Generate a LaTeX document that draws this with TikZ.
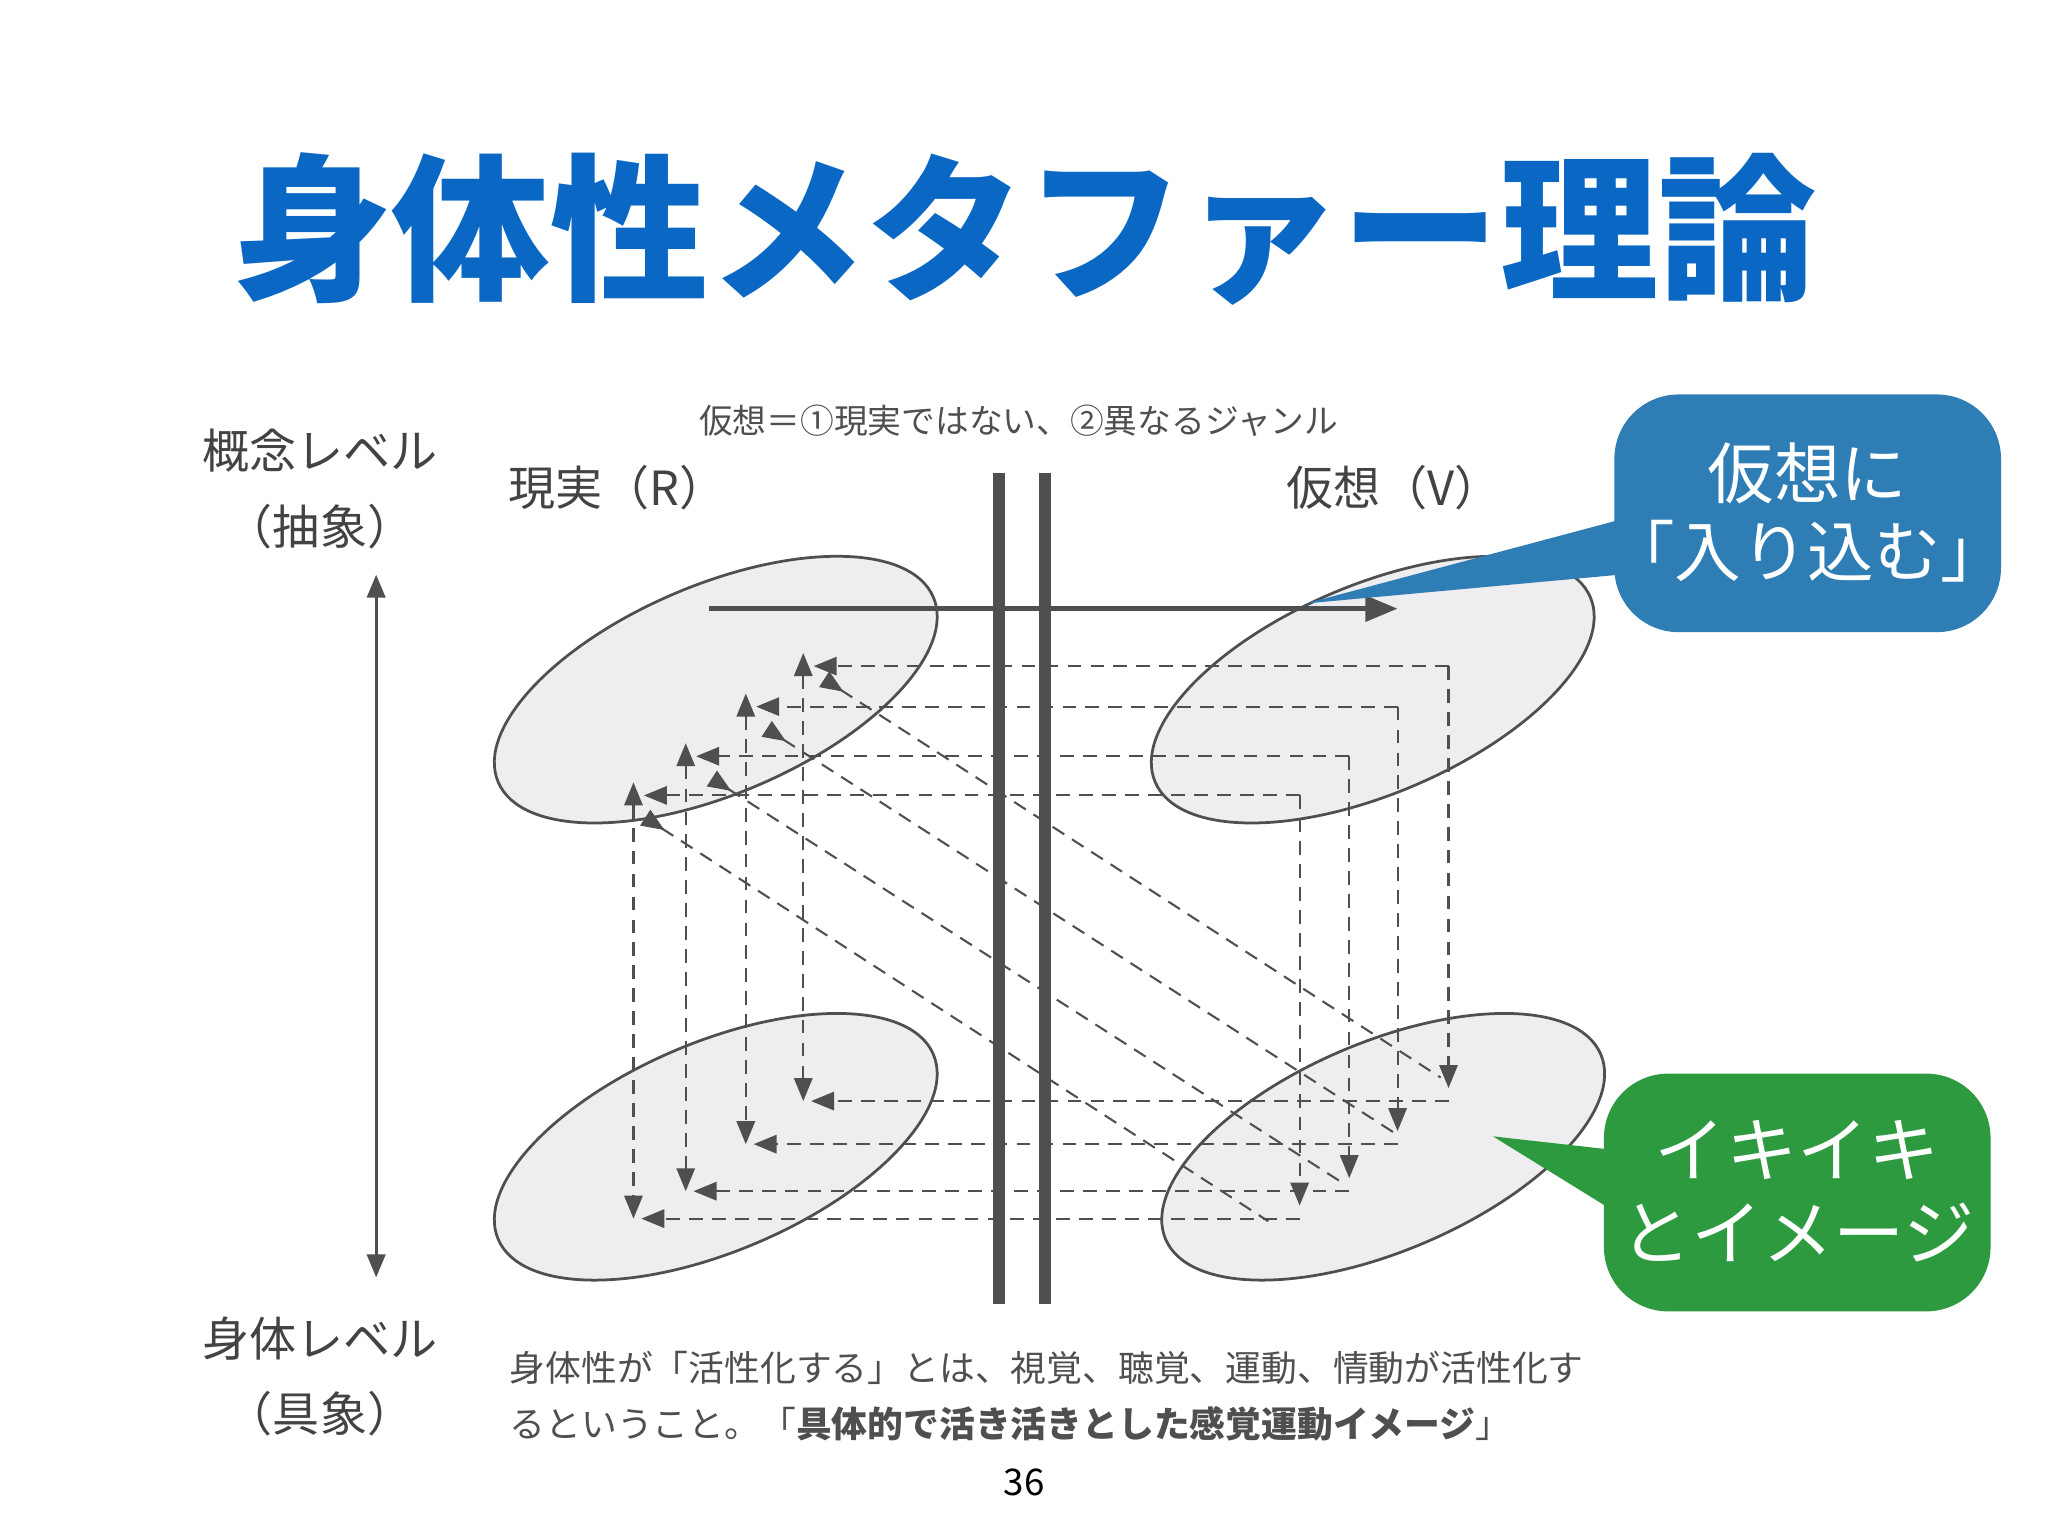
\documentclass[tikz,border=0pt]{standalone}
\usepackage{fontspec}
\newfontfamily\jp{Noto Sans CJK JP}
\usetikzlibrary{arrows.meta}
\definecolor{tblue}{HTML}{0A68C4}
\definecolor{cblue}{HTML}{2E7DB5}
\definecolor{cgreen}{HTML}{2E9A40}
\definecolor{dk}{HTML}{4F4F52}
\definecolor{efill}{HTML}{EEEDF0}
\tikzset{
  ell/.style={draw=dk, line width=1.2pt, fill=efill},
  dsh/.style={draw=dk, dashed, dash pattern=on 6pt off 4pt, line width=0.9pt},
  tip/.style={-{Triangle[length=10pt,width=8pt]}},
  lbl/.style={font=\jp\fontsize{20.5}{24}\selectfont, text=dk!85!black},
  bar/.style={draw=dk, line width=5pt},
}
\begin{document}
\begin{tikzpicture}[x=0.02cm,y=-0.02cm]
\fill[white] (0,0) rectangle (1568,1176);
\useasboundingbox (0,0) rectangle (1568,1176);
% title
\node[font=\jp\bfseries\fontsize{69}{80}\selectfont, text=tblue] (title) at (785,175) {身体性メタファー理論};
% labels
\node[font=\jp\fontsize{14.7}{18}\selectfont, text=dk] (top) at (780,322) {仮想＝①現実ではない、②異なるジャンル};
\node[lbl] (gl) at (245,345) {概念レベル};
\node[lbl] (gl2) at (245,403) {（抽象）};
\node[lbl] (bl) at (245,1025) {身体レベル};
\node[lbl] (bl2) at (245,1082) {（具象）};
\node[lbl] (R) at (473,373) {現実（R）};
\node[lbl] (V) at (1067,373) {仮想（V）};
\coordinate (ua) at (288,440); \coordinate (da) at (288,978);
\draw[dk, line width=1.3pt, {Triangle[length=10pt,width=8pt]}-{Triangle[length=10pt,width=8pt]}] (ua) -- (da);
% ellipses
\draw[ell, rotate around={23:(548,528)}] (548,528) ellipse [x radius=181, y radius=80];
\draw[ell, rotate around={23:(1051,528)}] (1051,528) ellipse [x radius=181, y radius=80];
\draw[ell, rotate around={23:(548,878)}] (548,878) ellipse [x radius=181, y radius=80];
\draw[ell, rotate around={23:(1059,878)}] (1059,878) ellipse [x radius=181, y radius=80];
% bars
\draw[bar] (765,362) -- (765,998);
\draw[bar] (800,362) -- (800,998);
% solid arrow
\coordinate (sa) at (543,466); \coordinate (sb) at (1070,466);
\draw[dk, line width=2.2pt, -{Triangle[length=14pt,width=11pt]}] (sa) -- (sb);
% dashed loops
\foreach \lx/\rx/\ty/\by/\ax/\ay/\bx/\dy in
  {615/1109/510/843/631/520/1103/825,
   571/1070/541/876/587/558/1067/867,
   525/1033/579/912/545/596/1030/907,
   485/995/609/933/494/626/971/935}{
  \draw[dsh, tip] (\rx,\ty) -- (\lx+8,\ty);
  \draw[dsh, tip] (\rx,\ty) -- (\rx,\by-10);
  \draw[dsh, tip] (\rx,\by) -- (\lx+6,\by);
  \draw[dsh, {Triangle[length=10pt,width=8pt]}-{Triangle[length=10pt,width=8pt]}] (\lx,\ty-10) -- (\lx,\by);
  \draw[dsh, {Triangle[length=10pt,width=8pt,reversed]}-] (\ax,\ay) -- (\bx,\dy);
}
% blue callout
\fill[cblue] (1240,398) -- (1000,462) -- (1240,440) -- cycle;
\fill[cblue, rounded corners=28pt] (1236,302) rectangle (1532,484);
\node[font=\jp\fontsize{29}{34}\selectfont, text=white, align=center] (cb) at (1384,392) {仮想に\\「入り込む」};
% green callout
\fill[cgreen] (1232,880) -- (1143,870) -- (1232,925) -- cycle;
\fill[cgreen, rounded corners=28pt] (1228,822) rectangle (1524,1004);
\node[font=\jp\fontsize{31}{36}\selectfont, text=white, align=center] (cg) at (1376,912) {イキイキ\\とイメージ};
% bottom text
\node[font=\jp\fontsize{15.6}{24.5}\selectfont, text=dk, align=left, anchor=north west] (bt) at (384,1028)
 {身体性が「活性化する」とは、視覚、聴覚、運動、情動が活性化す\\るということ。「\textbf{具体的で活き活きとした感覚運動イメージ}」};
\node[font=\jp\fontsize{16}{20}\selectfont, text=black] (pg) at (784,1135) {36};
\end{tikzpicture}
\end{document}
